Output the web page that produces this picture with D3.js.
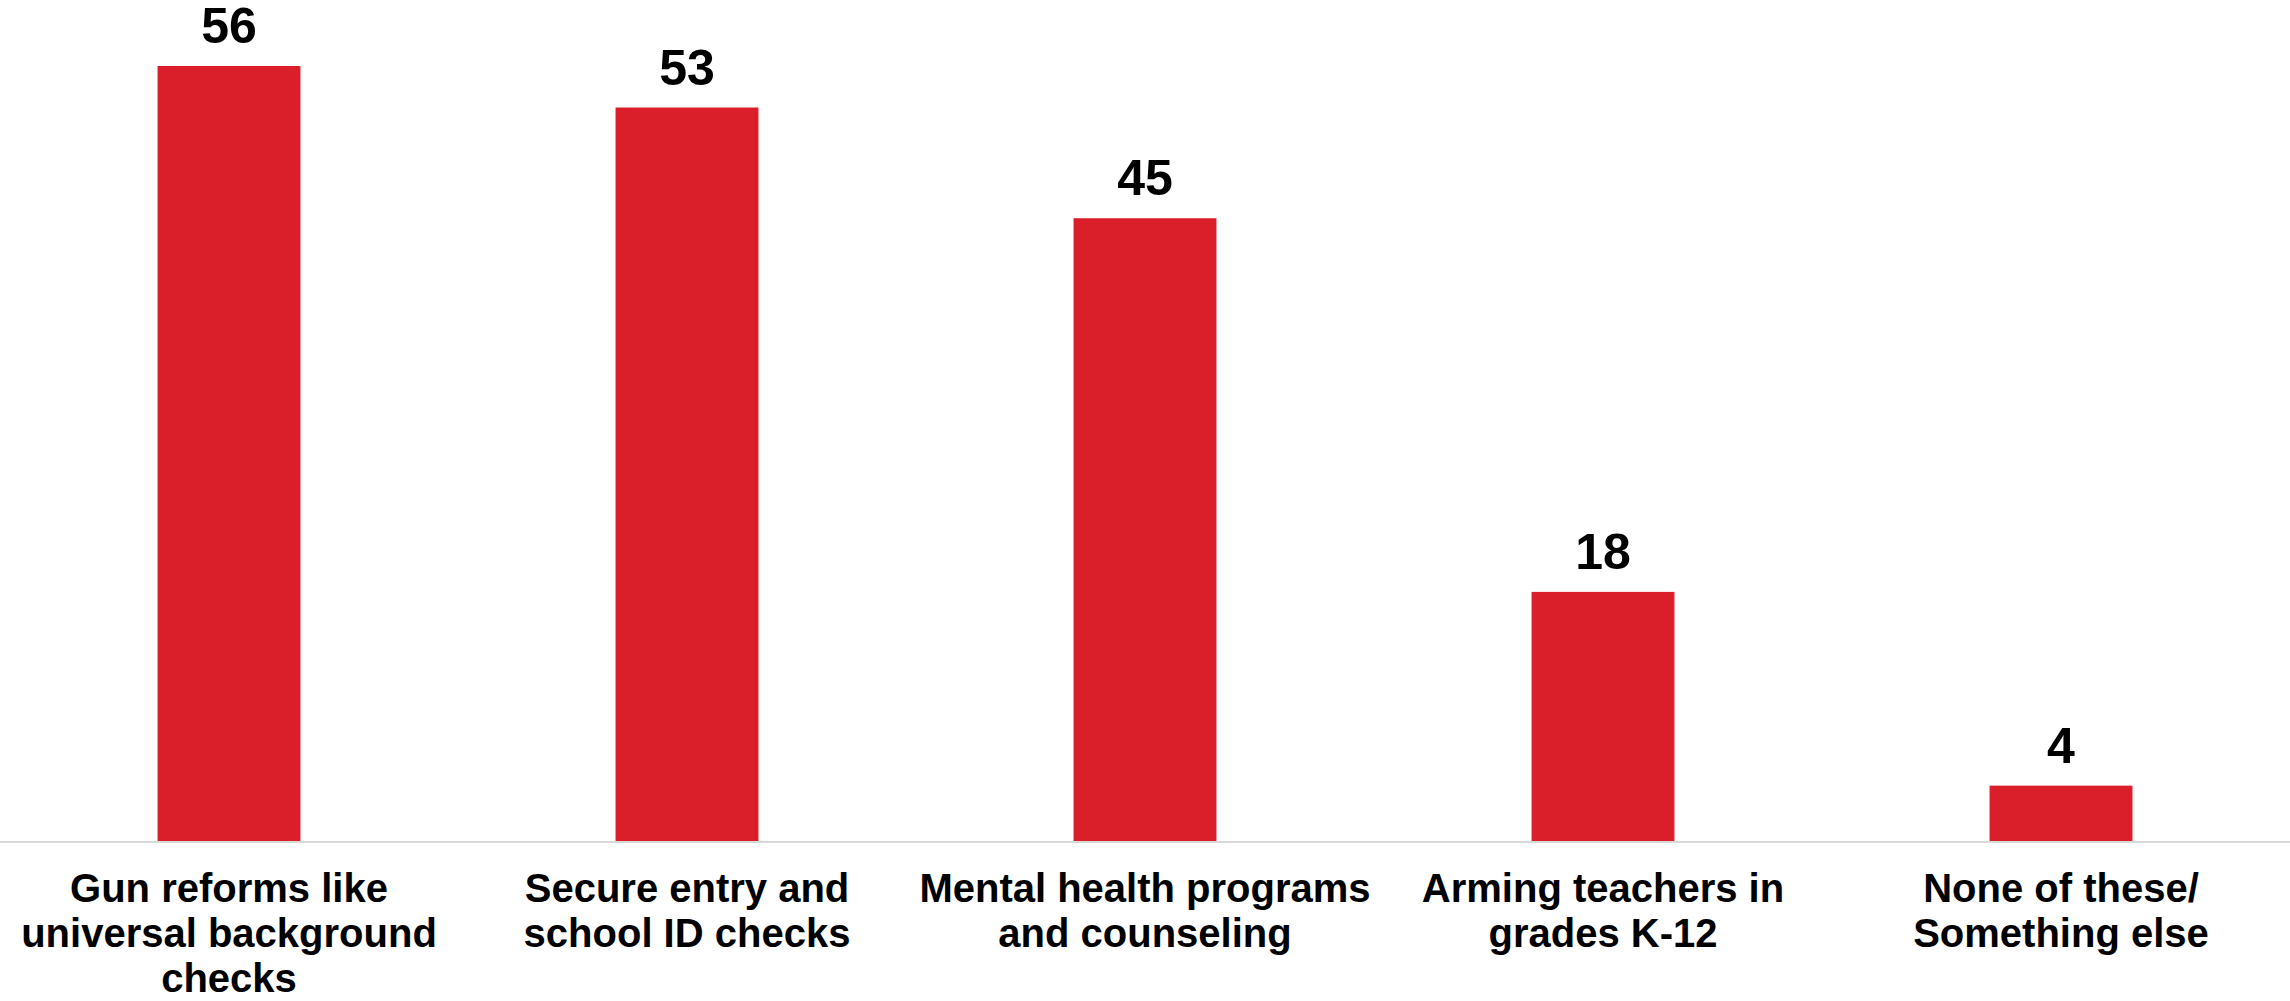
<!DOCTYPE html>
<html>
<head>
<meta charset="utf-8">
<script src="https://cdn.jsdelivr.net/npm/d3@7"></script>
<style>
    html, body { margin: 0; padding: 0; background: #ffffff; }
    svg { display: block; }
</style>
</head>
<body>
<svg id="chart"></svg>
<script>
// data
const categories = [
    "Gun reforms like\nuniversal background\nchecks",
    "Secure entry and\nschool ID checks",
    "Mental health programs\nand counseling",
    "Arming teachers in\ngrades K-12",
    "None of these/\nSomething else"
];
const values = [56, 53, 45, 18, 4];

const width = 2290;
const height = 1001;
const baseline = 841;
const barColor = "#da1f2b";
const font = "'Liberation Sans', Arial, Helvetica, sans-serif";

const svg = d3.select("#chart")
    .attr("width", width)
    .attr("height", height);

const x = d3.scaleBand()
    .domain(d3.range(categories.length))
    .range([0, width])
    .paddingInner(0.688)
    .paddingOuter(0.344);

// 56 -> y 66
const y = d3.scaleLinear()
    .domain([0, 56])
    .range([baseline, 66]);

// Bars
svg.append("g")
    .selectAll("rect")
    .data(values)
    .enter()
    .append("rect")
    .attr("x", (d, i) => x(i))
    .attr("y", d => y(d))
    .attr("width", x.bandwidth())
    .attr("height", d => baseline - y(d))
    .attr("fill", barColor);

// Baseline
svg.append("line")
    .attr("x1", 0)
    .attr("x2", width)
    .attr("y1", baseline + 1)
    .attr("y2", baseline + 1)
    .attr("stroke", "#d9d9d9")
    .attr("stroke-width", 2);

// Value labels
svg.append("g")
    .selectAll("text")
    .data(values)
    .enter()
    .append("text")
    .attr("x", (d, i) => x(i) + x.bandwidth() / 2)
    .attr("y", d => y(d) - 23)
    .attr("text-anchor", "middle")
    .attr("fill", "#000")
    .style("font-family", font)
    .style("font-size", "50px")
    .style("font-weight", "700")
    .text(d => d);

// Category labels
const cat = svg.append("g")
    .selectAll("text")
    .data(categories)
    .enter()
    .append("text")
    .attr("x", (d, i) => x(i) + x.bandwidth() / 2)
    .attr("y", 902)
    .attr("text-anchor", "middle")
    .attr("fill", "#000")
    .style("font-family", font)
    .style("font-size", "40px")
    .style("font-weight", "700");

cat.selectAll("tspan")
    .data(d => d.split("\n"))
    .enter()
    .append("tspan")
    .attr("x", function() { return this.parentNode.getAttribute("x"); })
    .attr("dy", (d, i) => i === 0 ? 0 : 45)
    .text(d => d);
</script>
</body>
</html>
